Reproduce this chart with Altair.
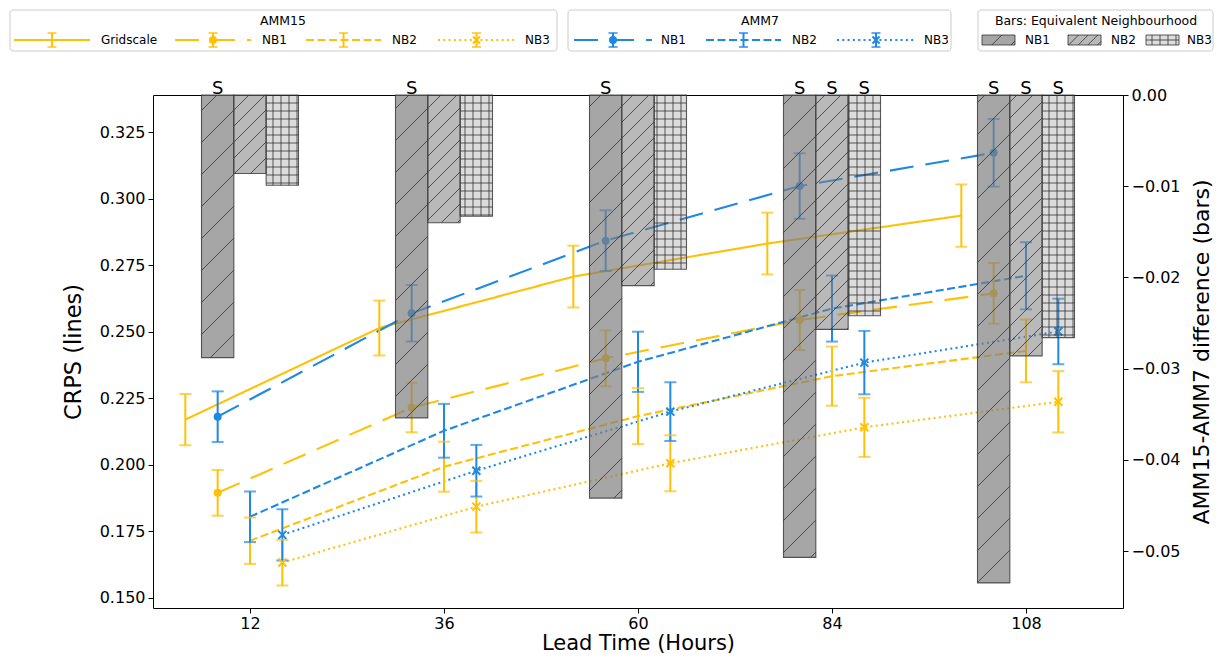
import math
import altair as alt
import pandas as pd

# ---------------- data ----------------
lead_times = [12, 36, 60, 84, 108]

amm15_grid = [0.2170, 0.2514, 0.2707, 0.2831, 0.2936]
amm15_grid_err = [0.0096, 0.0103, 0.0116, 0.0116, 0.0117]
amm15_nb1 = [0.1895, 0.2215, 0.2400, 0.2544, 0.2644]
amm15_nb1_err = [0.0086, 0.0093, 0.0105, 0.0113, 0.0114]
amm15_nb2 = [0.1715, 0.1993, 0.2183, 0.2333, 0.2428]
amm15_nb2_err = [0.0087, 0.0094, 0.0105, 0.0111, 0.0118]
amm15_nb3 = [0.1633, 0.1843, 0.2006, 0.2141, 0.2237]
amm15_nb3_err = [0.0086, 0.0097, 0.0105, 0.0111, 0.0115]

amm7_nb1 = [0.2181, 0.2569, 0.2842, 0.3047, 0.3172]
amm7_nb1_err = [0.0095, 0.0106, 0.0114, 0.0123, 0.0127]
amm7_nb2 = [0.1805, 0.2128, 0.2387, 0.2587, 0.2710]
amm7_nb2_err = [0.0095, 0.0101, 0.0113, 0.0124, 0.0126]
amm7_nb3 = [0.1737, 0.1978, 0.2200, 0.2384, 0.2501]
amm7_nb3_err = [0.0096, 0.0097, 0.0110, 0.0119, 0.0123]

diff_nb1 = [-0.0288, -0.0354, -0.0442, -0.0507, -0.0535]
diff_nb2 = [-0.0086, -0.0140, -0.0209, -0.0257, -0.0286]
diff_nb3 = [-0.0099, -0.0133, -0.0191, -0.0242, -0.0266]
sig_nb1 = [True, True, True, True, True]
sig_nb2 = [False, False, False, True, True]
sig_nb3 = [False, False, False, True, True]

left_ticks = [0.150, 0.175, 0.200, 0.225, 0.250, 0.275, 0.300, 0.325]
right_ticks = [0.00, -0.01, -0.02, -0.03, -0.04, -0.05]

# ---------------- layout / style ----------------
W, H = 970, 513
X_DOM = [0, 120]
Y_DOM = [0.14624, 0.3389]
D_DOM = [-0.05625, 0.0]
FONT = "DejaVu Sans"
YELLOW = "#FFC107"
BLUE = "#1E88E5"
offsets = {"Gridscale": -8, "NB1": -4, "NB2": 0, "NB3": 4}
BAR_W = 4
dash_names = ["solid", "long", "dash", "dot"]
dash_patterns = [[1, 0], [24, 12], [8, 3.5], [2, 3.3]]
nb_dash = {"Gridscale": "solid", "NB1": "long", "NB2": "dash", "NB3": "dot"}
nb_marker = {"Gridscale": "none", "NB1": "circle", "NB2": "none", "NB3": "x"}
bar_fill = {"NB1": "#808080", "NB2": "#808080", "NB3": "#808080"}
bar_op = {"NB1": 0.70, "NB2": 0.55, "NB3": 0.28}
bar_hatch = {"NB1": ("diag", 32), "NB2": ("diag", 16), "NB3": ("grid", 8)}
X_SHAPE = "M-1,-1L1,1M-1,1L1,-1"

series = [
    ("AMM15", "Gridscale", amm15_grid, amm15_grid_err, YELLOW),
    ("AMM15", "NB1", amm15_nb1, amm15_nb1_err, YELLOW),
    ("AMM7", "NB1", amm7_nb1, amm7_nb1_err, BLUE),
    ("AMM15", "NB2", amm15_nb2, amm15_nb2_err, YELLOW),
    ("AMM7", "NB2", amm7_nb2, amm7_nb2_err, BLUE),
    ("AMM15", "NB3", amm15_nb3, amm15_nb3_err, YELLOW),
    ("AMM7", "NB3", amm7_nb3, amm7_nb3_err, BLUE),
]
rows = []
for model, nb, vals, errs, col in series:
    for lt, v, e in zip(lead_times, vals, errs):
        rows.append(dict(series=f"{model} {nb}", nb=nb, x=lt + offsets[nb], y=v,
                         lo=v - e, hi=v + e, color=col, dash=nb_dash[nb],
                         marker=nb_marker[nb]))
lines_df = pd.DataFrame(rows)

bar_rows = []
for nb, vals, sigs in [("NB1", diff_nb1, sig_nb1), ("NB2", diff_nb2, sig_nb2), ("NB3", diff_nb3, sig_nb3)]:
    for lt, v, s in zip(lead_times, vals, sigs):
        c = lt + offsets[nb]
        bar_rows.append(dict(nb=nb, xc=c, x0=c - BAR_W / 2, x1=c + BAR_W / 2, top=0.0,
                             value=v, sig=s, fill=bar_fill[nb], fop=bar_op[nb]))
bars_df = pd.DataFrame(bar_rows)


# hatch segments (pixel space, y downward), converted back to data units
def hatch_px(x0, x1, y0, y1, kind, period):
    segs = []
    if kind == "diag":
        kmin = math.floor((x0 + y0) / period)
        kmax = math.ceil((x1 + y1) / period)
        for k in range(kmin, kmax + 1):
            c = k * period
            lo = max(x0, c - y1)
            hi = min(x1, c - y0)
            if hi - lo > 0.8:
                segs.append((lo, c - lo, hi, c - hi))
    else:
        for k in range(math.floor(x0 / period), math.ceil(x1 / period) + 1):
            xv = k * period
            if x0 + 0.5 < xv < x1 - 0.5:
                segs.append((xv, y0, xv, y1))
        for k in range(math.floor(y0 / period), math.ceil(y1 / period) + 1):
            yv = k * period
            if y0 + 0.5 < yv < y1 - 0.5:
                segs.append((x0, yv, x1, yv))
    return segs


def to_px_x(h):
    return (h - X_DOM[0]) / (X_DOM[1] - X_DOM[0]) * W


def to_px_d(d):
    return (D_DOM[1] - d) / (D_DOM[1] - D_DOM[0]) * H


def from_px_x(p):
    return X_DOM[0] + p / W * (X_DOM[1] - X_DOM[0])


def from_px_d(p):
    return D_DOM[1] - p / H * (D_DOM[1] - D_DOM[0])


hatch_rows = []
for r in bar_rows:
    kind, per = bar_hatch[r["nb"]]
    for (ax, ay, bx, by) in hatch_px(to_px_x(r["x0"]), to_px_x(r["x1"]), to_px_d(0.0), to_px_d(r["value"]), kind, per):
        hatch_rows.append(dict(hx=from_px_x(ax), hy=from_px_d(ay), hx2=from_px_x(bx), hy2=from_px_d(by)))
hatch_df = pd.DataFrame(hatch_rows)

# ---------------- scales / axes ----------------
xs = alt.Scale(domain=X_DOM, nice=False, zero=False)
ys = alt.Scale(domain=Y_DOM, nice=False, zero=False)
ds = alt.Scale(domain=D_DOM, nice=False, zero=False)
dash_scale = alt.Scale(domain=dash_names, range=dash_patterns)

axis_common = dict(grid=False, domain=False, ticks=True, tickColor="black", tickSize=5, tickWidth=1,
                   labelColor="black", titleColor="black", labelFont=FONT, titleFont=FONT,
                   labelFontSize=16, titleFontWeight="normal")
x_axis = alt.Axis(values=lead_times, title="Lead Time (Hours)", orient="bottom", labelPadding=2,
                  titlePadding=1, titleFontSize=21, **axis_common)
y_axis = alt.Axis(values=left_ticks, format=".3f", title="CRPS (lines)", labelPadding=3,
                  titlePadding=14, titleFontSize=22.5, orient="left", **axis_common)
d_axis = alt.Axis(values=right_ticks, format=".2f", title="AMM15-AMM7 difference (bars)", labelPadding=3,
                  titlePadding=11, titleFontSize=22, orient="right", titleAngle=270,
                  titleBaseline="top", **axis_common)


def PX(f, axis=None):
    return alt.X(f, scale=xs, axis=axis)


def PY(f, axis=None):
    return alt.Y(f, scale=ys, axis=axis)


def PD(f, axis=None):
    return alt.Y(f, scale=ds, axis=axis)


COL = alt.Color("color:N", scale=None)

# ---------------- lines ----------------
base = alt.Chart(lines_df)
line = base.mark_line(strokeWidth=2.1).encode(
    x=PX("x:Q", x_axis), y=PY("y:Q", y_axis), detail="series:N", color=COL,
    strokeDash=alt.StrokeDash("dash:N", scale=dash_scale, legend=None),
)
err = base.mark_rule(strokeWidth=2).encode(x=PX("x:Q"), y=PY("lo:Q"), y2="hi:Q", color=COL)
cap_lo = base.mark_tick(orient="horizontal", size=12, thickness=2).encode(x=PX("x:Q"), y=PY("lo:Q"), color=COL)
cap_hi = base.mark_tick(orient="horizontal", size=12, thickness=2).encode(x=PX("x:Q"), y=PY("hi:Q"), color=COL)
dots = base.transform_filter(alt.datum.marker == "circle").mark_point(
    shape="circle", filled=True, size=64, opacity=1).encode(x=PX("x:Q"), y=PY("y:Q"), color=COL)
crosses = base.transform_filter(alt.datum.marker == "x").mark_point(
    shape=X_SHAPE, filled=False, size=64, strokeWidth=2, opacity=1).encode(x=PX("x:Q"), y=PY("y:Q"), color=COL)

# ---------------- bars ----------------
bbase = alt.Chart(bars_df)
bars = bbase.mark_rect(stroke="#333333", strokeWidth=1.1, strokeOpacity=0.8).encode(
    x=PX("x0:Q"), x2="x1:Q", y=PD("top:Q", d_axis), y2="value:Q",
    fill=alt.Fill("fill:N", scale=None), fillOpacity=alt.FillOpacity("fop:Q", scale=None),
)
hatch = alt.Chart(hatch_df).mark_rule(color="#333333", strokeWidth=1, opacity=0.8).encode(
    x=PX("hx:Q"), x2="hx2:Q", y=PD("hy:Q"), y2="hy2:Q")
sig_text = bbase.transform_filter(alt.datum.sig == True).mark_text(
    text="S", font=FONT, fontSize=18, baseline="alphabetic", dy=-1, color="black").encode(
    x=PX("xc:Q"), y=PD("top:Q"))

# ---------------- legend (page-pixel layout) ----------------
lxs = alt.Scale(domain=[153, 1123], nice=False, zero=False)
lys = alt.Scale(domain=[95, 608], reverse=True, nice=False, zero=False)
LEG_ROW_Y = 40
LEG_TITLE_Y = 21
leg_boxes = pd.DataFrame([
    dict(x=10, x2=557, y=10, y2=51),
    dict(x=568, x2=951, y=10, y2=51),
    dict(x=978, x2=1213, y=10, y2=51),
])
leg_titles = pd.DataFrame([
    dict(x=283, y=LEG_TITLE_Y, t="AMM15"),
    dict(x=760, y=LEG_TITLE_Y, t="AMM7"),
    dict(x=1096, y=LEG_TITLE_Y, t="Bars: Equivalent Neighbourhood"),
])
leg_items = [
    ("Gridscale", YELLOW, "solid", "none", 14, 90, 101),
    ("NB1", YELLOW, "long", "circle", 175, 251, 262),
    ("NB2", YELLOW, "dash", "none", 306, 381, 392),
    ("NB3", YELLOW, "dot", "x", 438, 515, 525),
    ("NB1", BLUE, "long", "circle", 574, 652, 661),
    ("NB2", BLUE, "dash", "none", 706, 781, 792),
    ("NB3", BLUE, "dot", "x", 837, 915, 924),
]
li_rows = []
for lab, col, dsh, mk, a, b, tx in leg_items:
    li_rows.append(dict(label=lab, color=col, dash=dsh, marker=mk, x=a, x2=b,
                        xm=(a + b) / 2, y=LEG_ROW_Y, ylo=LEG_ROW_Y + 7, yhi=LEG_ROW_Y - 7, tx=tx))
leg_df = pd.DataFrame(li_rows)
patch_items = [("NB1", 982, 1015, 1025), ("NB2", 1068, 1101, 1111), ("NB3", 1146, 1179, 1187)]
p_rows, ph_rows = [], []
for nb, a, b, tx in patch_items:
    p_rows.append(dict(label=nb, x=a, x2=b, y=LEG_ROW_Y - 5, y2=LEG_ROW_Y + 5, fill=bar_fill[nb],
                       fop=bar_op[nb], tx=tx, ty=LEG_ROW_Y))
    kind, per = bar_hatch[nb]
    per_l = per if kind == "grid" else per * 0.6
    for (ax, ay, bx, by) in hatch_px(a, b, LEG_ROW_Y - 5, LEG_ROW_Y + 5, kind, per_l):
        ph_rows.append(dict(hx=ax, hy=ay, hx2=bx, hy2=by))
patch_df = pd.DataFrame(p_rows)
phatch_df = pd.DataFrame(ph_rows)


def LX(f):
    return alt.X(f, scale=lxs, axis=None)


def LY(f):
    return alt.Y(f, scale=lys, axis=None)


l_box = alt.Chart(leg_boxes).mark_rect(fill="white", stroke="#cccccc", strokeWidth=1, cornerRadius=3).encode(
    x=LX("x:Q"), x2="x2:Q", y=LY("y:Q"), y2="y2:Q")
l_title = alt.Chart(leg_titles).mark_text(font=FONT, fontSize=12.5, align="center", baseline="middle",
                                          color="black").encode(x=LX("x:Q"), y=LY("y:Q"), text="t:N")
lbase = alt.Chart(leg_df)
l_line = lbase.mark_rule(strokeWidth=2).encode(
    x=LX("x:Q"), x2="x2:Q", y=LY("y:Q"), color=COL,
    strokeDash=alt.StrokeDash("dash:N", scale=dash_scale, legend=None))
l_err = lbase.mark_rule(strokeWidth=2).encode(x=LX("xm:Q"), y=LY("ylo:Q"), y2="yhi:Q", color=COL)
l_cap1 = lbase.mark_tick(orient="horizontal", size=9, thickness=2).encode(x=LX("xm:Q"), y=LY("ylo:Q"), color=COL)
l_cap2 = lbase.mark_tick(orient="horizontal", size=9, thickness=2).encode(x=LX("xm:Q"), y=LY("yhi:Q"), color=COL)
l_dot = lbase.transform_filter(alt.datum.marker == "circle").mark_point(
    shape="circle", filled=True, size=64, opacity=1).encode(x=LX("xm:Q"), y=LY("y:Q"), color=COL)
l_x = lbase.transform_filter(alt.datum.marker == "x").mark_point(
    shape=X_SHAPE, filled=False, size=50, strokeWidth=2, opacity=1).encode(x=LX("xm:Q"), y=LY("y:Q"), color=COL)
l_label = lbase.mark_text(font=FONT, fontSize=12, align="left", baseline="middle", color="black").encode(
    x=LX("tx:Q"), y=LY("y:Q"), text="label:N")
l_patch = alt.Chart(patch_df).mark_rect(stroke="#333333", strokeWidth=1, strokeOpacity=0.8).encode(
    x=LX("x:Q"), x2="x2:Q", y=LY("y:Q"), y2="y2:Q",
    fill=alt.Fill("fill:N", scale=None), fillOpacity=alt.FillOpacity("fop:Q", scale=None))
l_phatch = alt.Chart(phatch_df).mark_rule(color="#333333", strokeWidth=1, opacity=0.8).encode(
    x=LX("hx:Q"), x2="hx2:Q", y=LY("hy:Q"), y2="hy2:Q")
l_plabel = alt.Chart(patch_df).mark_text(font=FONT, fontSize=12, align="left", baseline="middle",
                                         color="black").encode(x=LX("tx:Q"), y=LY("ty:Q"), text="label:N")

chart = alt.layer(
    line, err, cap_lo, cap_hi, dots, crosses,
    bars, hatch, sig_text,
    l_box, l_title, l_line, l_err, l_cap1, l_cap2, l_dot, l_x, l_label, l_patch, l_phatch, l_plabel,
).resolve_scale(
    x="independent", y="independent", strokeDash="independent"
).properties(
    width=W, height=H,
    padding={"left": 145, "top": 87, "right": 92, "bottom": 45},
    autosize=alt.AutoSizeParams(type="none"),
    background="white",
).configure(font=FONT).configure_view(stroke="black", strokeWidth=1)

chart.save("out.html", embed_options={"renderer": "svg", "actions": False})
